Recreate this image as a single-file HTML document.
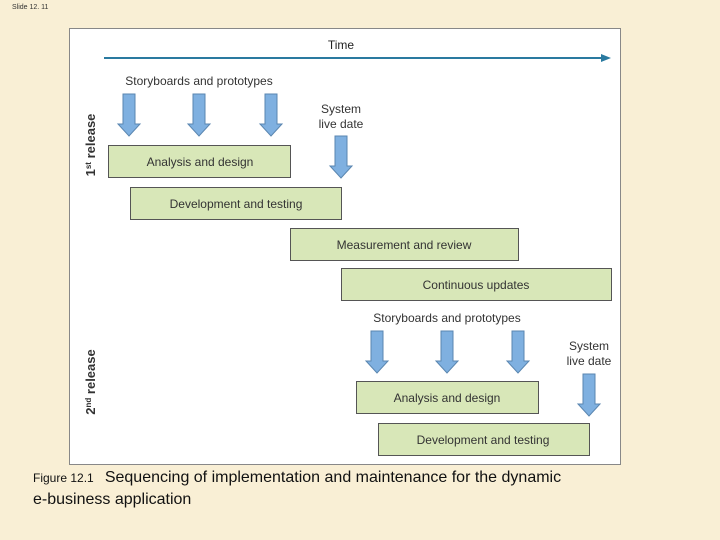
<html><body style="margin:0;width:720px;height:540px;background:#f9efd5;position:relative;font-family:'Liberation Sans',sans-serif;overflow:hidden">
<div style="position:absolute;left:12px;top:4px;font-size:7px;color:#333">Slide 12. 11</div>
<div style="position:absolute;left:69px;top:28px;width:552px;height:437px;background:#fff;border:1px solid #888;box-sizing:border-box"></div>
<svg width="720" height="540" style="position:absolute;left:0;top:0" font-family="Liberation Sans, sans-serif">
<defs><g id="a"><polygon points="-6,0 6,0 6,30 11,30 0,42 -11,30 -6,30" fill="#7fb0e0" stroke="#5a86b0" stroke-width="1"/></g></defs>
<text x="341" y="49" font-size="12" text-anchor="middle" fill="#222">Time</text>
<line x1="104" y1="58" x2="604" y2="58" stroke="#2a7aa0" stroke-width="2"/>
<polygon points="611,58 601,54 601,62" fill="#2a7aa0"/>
<text x="199" y="85" font-size="12" text-anchor="middle" fill="#333">Storyboards and prototypes</text>
<use href="#a" x="129" y="94"/><use href="#a" x="199" y="94"/><use href="#a" x="271" y="94"/>
<text x="341" y="113" font-size="12" text-anchor="middle" fill="#333">System</text>
<text x="341" y="128" font-size="12" text-anchor="middle" fill="#333">live date</text>
<use href="#a" x="341" y="136"/>
<text transform="translate(95,145) rotate(-90)" font-size="13" font-weight="bold" text-anchor="middle" fill="#333">1<tspan font-size="8" dy="-4">st</tspan><tspan dy="4"> release</tspan></text>
<text transform="translate(95,382) rotate(-90)" font-size="13" font-weight="bold" text-anchor="middle" fill="#333">2<tspan font-size="8" dy="-4">nd</tspan><tspan dy="4"> release</tspan></text>
<g fill="#d8e7b8" stroke="#555" stroke-width="1">
<rect x="108.5" y="145.5" width="182" height="32"/>
<rect x="130.5" y="187.5" width="211" height="32"/>
<rect x="290.5" y="228.5" width="228" height="32"/>
<rect x="341.5" y="268.5" width="270" height="32"/>
<rect x="356.5" y="381.5" width="182" height="32"/>
<rect x="378.5" y="423.5" width="211" height="32"/>
</g>
<g font-size="12" text-anchor="middle" fill="#333">
<text x="200" y="166">Analysis and design</text>
<text x="236" y="208">Development and testing</text>
<text x="404" y="249">Measurement and review</text>
<text x="476" y="289">Continuous updates</text>
<text x="447" y="402">Analysis and design</text>
<text x="483" y="444">Development and testing</text>
<text x="447" y="322">Storyboards and prototypes</text>
<text x="589" y="350">System</text>
<text x="589" y="365">live date</text>
</g>
<use href="#a" x="377" y="331"/><use href="#a" x="447" y="331"/><use href="#a" x="518" y="331"/>
<use href="#a" x="589" y="374"/>
</svg>
<div style="position:absolute;left:33px;top:467px;font-size:16px;color:#111;line-height:22px;width:660px;white-space:nowrap"><span style="font-size:12px">Figure 12.1 &nbsp;</span> Sequencing of implementation and maintenance for the dynamic<br>e-business application</div>
</body></html>
